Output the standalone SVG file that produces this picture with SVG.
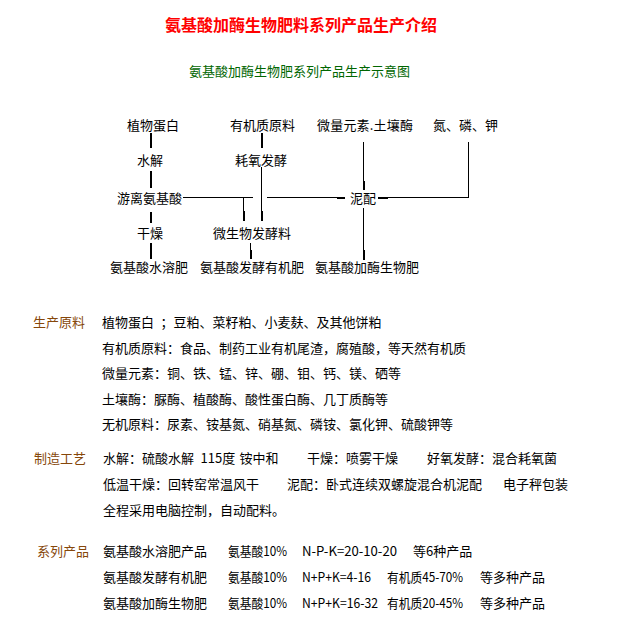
<svg xmlns="http://www.w3.org/2000/svg" width="637" height="623" viewBox="0 0 637 623">
<style>
text { font-family: "Noto Sans CJK SC", "Noto Sans", sans-serif; font-size: 13px; fill: #000; }
.title { font-size: 16px; font-weight: bold; fill: #ff0000; }
.sub { fill: #006600; }
.lab { fill: #86470a; }
.thin { stroke: #000; stroke-width: 1; fill: none; shape-rendering: crispEdges; }
.thick { stroke: #000; stroke-width: 2; fill: none; shape-rendering: crispEdges; }
</style>
<rect width="637" height="623" fill="#fff"/>
<g id="title"><text class="title" x="165" y="31">氨基酸加酶生物肥料系列产品生产介绍</text></g>
<g id="subtitle"><text class="sub" x="189" y="76">氨基酸加酶生物肥系列产品生产示意图</text></g>

<g id="connectors">
  <path class="thick" d="M150.5,133V148"/>
  <path class="thick" d="M150.5,171V188"/>
  <path class="thick" d="M261.5,133V148"/>
  <path class="thin" d="M261.5,167V221"/>
  <path class="thick" d="M261.5,211V221"/>
  <path class="thin" d="M183,197.5H253"/>
  <path class="thin" d="M243.5,197V221"/>
  <path class="thick" d="M243.5,211V221"/>
  <path class="thin" d="M267,197.5H345"/>
  <path class="thick" d="M337,197.5H345"/>
  <path class="thin" d="M363.5,142V190"/>
  <path class="thick" d="M363.5,181V190"/>
  <path class="thin" d="M468.5,142V197.5H378"/>
  <path class="thick" d="M378,197.5H388"/>
  <path class="thick" d="M150.5,212V223"/>
  <path class="thick" d="M150.5,243V259"/>
  <path class="thin" d="M250.5,243V259"/>
  <path class="thick" d="M250.5,250V259"/>
  <path class="thin" d="M363.5,208V260"/>
  <path class="thick" d="M363.5,250V260"/>
</g>

<g id="n-plant-protein"><text x="127" y="130">植物蛋白</text></g>
<g id="n-organic-raw"><text x="230" y="130">有机质原料</text></g>
<g id="n-trace-enzyme"><text x="317" y="130" textLength="96" lengthAdjust="spacing">微量元素.土壤酶</text></g>
<g id="n-npk"><text x="433" y="130">氮、磷、钾</text></g>
<g id="n-hydrolysis"><text x="137" y="165">水解</text></g>
<g id="n-aerobic"><text x="235" y="165">耗氧发酵</text></g>
<g id="n-free-aa"><text x="117" y="203">游离氨基酸</text></g>
<g id="n-mix"><text x="350" y="203">泥配</text></g>
<g id="n-dry"><text x="137" y="238">干燥</text></g>
<g id="n-microbe"><text x="213" y="238">微生物发酵料</text></g>
<g id="n-water-fert"><text x="110" y="272">氨基酸水溶肥</text></g>
<g id="n-organic-fert"><text x="200" y="272">氨基酸发酵有机肥</text></g>
<g id="n-bio-fert"><text x="315" y="272">氨基酸加酶生物肥</text></g>

<g id="raw-materials">
  <text class="lab" x="33" y="327">生产原料</text>
  <text x="102" y="327">植物蛋白<tspan x="160.5">；豆粕、菜籽粕、小麦麸、及其他饼粕</tspan></text>
  <text x="102" y="353">有机质原料：食品、制药工业有机尾渣，腐殖酸，等天然有机质</text>
  <text x="102" y="378">微量元素：铜、铁、锰、锌、硼、钼、钙、镁、硒等</text>
  <text x="102" y="404">土壤酶：脲酶、植酸酶、酸性蛋白酶、几丁质酶等</text>
  <text x="102" y="429">无机原料：尿素、铵基氮、硝基氮、磷铵、氯化钾、硫酸钾等</text>
</g>

<g id="process">
  <text class="lab" x="34" y="463">制造工艺</text>
  <text x="103" y="463">水解：硫酸水解<tspan x="200.5">115度</tspan><tspan x="239.5">铵中和</tspan></text>
  <text x="307" y="463">干燥：喷雾干燥</text>
  <text x="427" y="463">好氧发酵：混合耗氧菌</text>
  <text x="103" y="489">低温干燥：回转窑常温风干</text>
  <text x="287" y="489">泥配：卧式连续双螺旋混合机泥配</text>
  <text x="503" y="489">电子秤包装</text>
  <text x="103" y="515">全程采用电脑控制，自动配料。</text>
</g>

<g id="products">
  <text class="lab" x="37" y="556">系列产品</text>
  <text x="103" y="556">氨基酸水溶肥产品</text>
  <text x="228" y="556" textLength="59" lengthAdjust="spacingAndGlyphs">氨基酸10%</text>
  <text x="302" y="556" textLength="95" lengthAdjust="spacingAndGlyphs">N-P-K=20-10-20</text>
  <text x="413" y="556">等6种产品</text>
  <text x="103" y="582">氨基酸发酵有机肥</text>
  <text x="228" y="582" textLength="59" lengthAdjust="spacingAndGlyphs">氨基酸10%</text>
  <text x="302" y="582" textLength="69" lengthAdjust="spacingAndGlyphs">N+P+K=4-16</text>
  <text x="387" y="582" textLength="76" lengthAdjust="spacingAndGlyphs">有机质45-70%</text>
  <text x="480" y="582">等多种产品</text>
  <text x="103" y="608">氨基酸加酶生物肥</text>
  <text x="228" y="608" textLength="59" lengthAdjust="spacingAndGlyphs">氨基酸10%</text>
  <text x="302" y="608" textLength="76" lengthAdjust="spacingAndGlyphs">N+P+K=16-32</text>
  <text x="387" y="608" textLength="76" lengthAdjust="spacingAndGlyphs">有机质20-45%</text>
  <text x="480" y="608">等多种产品</text>
</g>
</svg>
